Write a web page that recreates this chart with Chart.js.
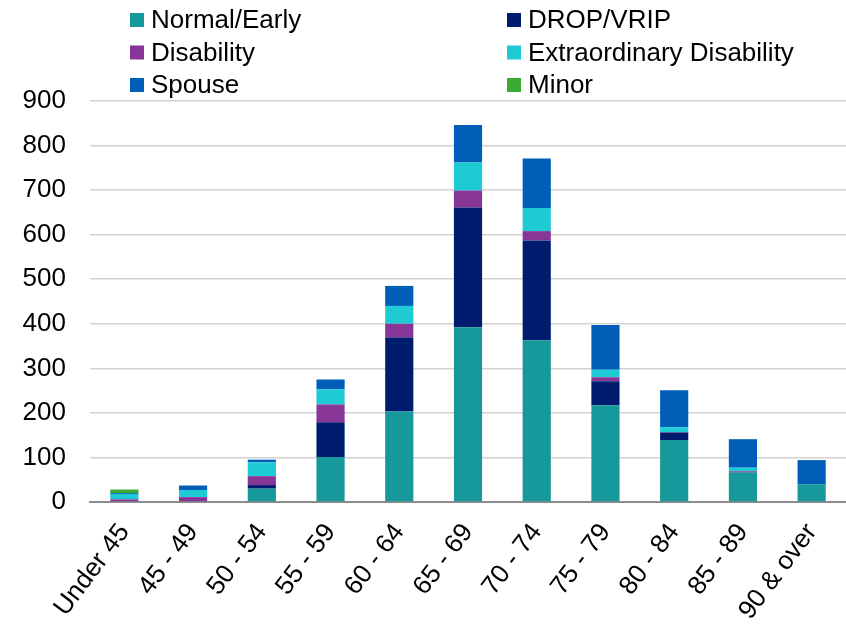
<!DOCTYPE html>
<html>
<head>
<meta charset="utf-8">
<script src="https://cdn.jsdelivr.net/npm/chart.js@4.4.1/dist/chart.umd.min.js"></script>
<style>
  html, body { margin: 0; padding: 0; background: #fff; }
  #wrap { width: 846px; height: 626px; }
</style>
</head>
<body>
<div id="wrap"><canvas id="chart" width="846" height="626"></canvas></div>
<script>
// Age groups along the x axis
const ageGroups = ['Under 45', '45 - 49', '50 - 54', '55 - 59', '60 - 64', '65 - 69', '70 - 74', '75 - 79', '80 - 84', '85 - 89', '90 & over'];

// Stacked series
const normalEarly   = [0, 0, 30, 101, 203, 392, 363, 217, 139, 66, 40];
const dropVrip      = [0, 0, 8, 78, 166, 269, 224, 54, 17, 1, 0];
const disability    = [6, 11, 20, 40, 31, 38, 21, 9, 1, 2, 0];
const extraDisab    = [12, 16, 31, 34, 40, 63, 52, 17, 11, 8, 0];
const spouse        = [2, 10, 6, 22, 45, 84, 111, 100, 83, 64, 54];
const minor         = [8, 0, 0, 0, 0, 0, 0, 0, 0, 0, 0];

const yTicks = [0, 100, 200, 300, 400, 500, 600, 700, 800, 900];

const FONT = '"Liberation Sans", Arial, sans-serif';

// Two-column legend drawn above the plot
const gridLegend = {
  id: 'gridLegend',
  afterDraw(chart) {
    const ctx = chart.ctx;
    const cols = [130, 507];
    const rows = [20, 52.5, 85];
    ctx.save();
    ctx.font = '26px ' + FONT;
    ctx.textBaseline = 'middle';
    ctx.textAlign = 'left';
    chart.data.datasets.forEach((ds, i) => {
      const x = cols[i % 2];
      const y = rows[Math.floor(i / 2)];
      ctx.fillStyle = ds.backgroundColor;
      ctx.fillRect(x, y - 7, 14, 14);
      ctx.fillStyle = '#000';
      ctx.fillText(ds.label, x + 21, y + 1);
    });
    ctx.restore();
  }
};

new Chart(document.getElementById('chart'), {
  type: 'bar',
  data: {
    labels: ageGroups,
    datasets: [
      { label: 'Normal/Early', data: normalEarly, backgroundColor: '#17989b' },
      { label: 'DROP/VRIP', data: dropVrip, backgroundColor: '#001c6e' },
      { label: 'Disability', data: disability, backgroundColor: '#873597' },
      { label: 'Extraordinary Disability', data: extraDisab, backgroundColor: '#1ecad4' },
      { label: 'Spouse', data: spouse, backgroundColor: '#005eb8' },
      { label: 'Minor', data: minor, backgroundColor: '#3aab32' }
    ]
  },
  options: {
    responsive: false,
    animation: false,
    layout: { padding: { top: 101, left: 0, right: 0, bottom: 0 } },
    datasets: { bar: { barPercentage: 0.41, categoryPercentage: 1, borderWidth: 0 } },
    plugins: {
      legend: { display: false },
      tooltip: { enabled: false }
    },
    scales: {
      x: {
        stacked: true,
        grid: { display: false, drawTicks: false },
        border: { display: true, color: '#8c8c8c', width: 2 },
        ticks: {
          font: { family: FONT, size: 26 },
          color: '#000',
          minRotation: 53,
          maxRotation: 53,
          padding: 16,
          autoSkip: false
        },
        afterFit: s => {
          s.height = 124;
          s.paddingLeft = 0;
          s.paddingRight = 0;
        }
      },
      y: {
        stacked: true,
        min: 0,
        max: 900,
        grid: {
          drawTicks: false,
          color: ctx => ctx.tick && ctx.tick.value === 0 ? 'rgba(0,0,0,0)' : '#d2d2d2',
          lineWidth: 1.5
        },
        border: { display: false },
        afterBuildTicks: s => { s.ticks = yTicks.map(v => ({ value: v })); },
        ticks: {
          font: { family: FONT, size: 26 },
          color: '#000',
          padding: 24
        },
        afterFit: s => { s.width = 90; }
      }
    }
  },
  plugins: [gridLegend]
});
</script>
</body>
</html>
